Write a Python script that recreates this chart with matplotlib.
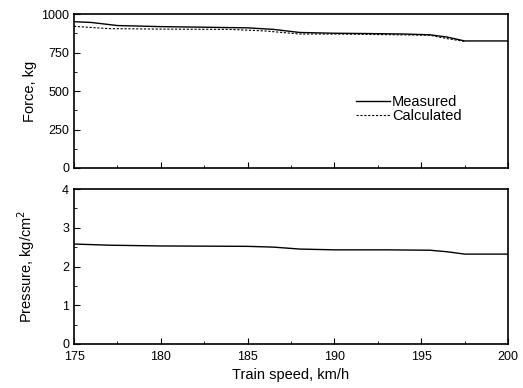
import numpy as np
import matplotlib
matplotlib.use("Agg")
import matplotlib.pyplot as plt
from matplotlib.ticker import MultipleLocator

plt.rcParams['font.family'] = ['Liberation Sans', 'DejaVu Sans']
plt.rcParams['font.size'] = 9

# values
speed_meas = [175, 176, 177.5, 180, 182, 185, 186.5, 188, 190, 192, 194, 195.5, 196.5, 197.5, 200]
force_meas = [950, 945, 925, 918, 915, 910, 900, 880, 875, 873, 870, 865, 850, 825, 825]

speed_calc = [175, 177, 180, 184, 186, 188, 190, 193, 195.5, 196.5, 197.5]
force_calc = [920, 905, 902, 900, 890, 870, 870, 866, 862, 840, 822]

speed_p = [175, 177, 180, 185, 186.5, 188, 190, 193, 195.5, 196.5, 197.5, 200]
pressure = [2.58, 2.55, 2.53, 2.52, 2.50, 2.45, 2.43, 2.43, 2.42, 2.38, 2.32, 2.32]

fig = plt.figure(figsize=(5.23, 3.88), dpi=100)
ax1 = fig.add_axes([74/523, 1-168/388, 434/523, 154/388])
ax2 = fig.add_axes([74/523, 1-344/388, 434/523, 155/388])

ax1.plot(speed_meas, force_meas, color='black', lw=1.0, label='Measured')
ax1.plot(speed_calc, force_calc, color='black', lw=0.8, ls=(0, (2, 1.5)), label='Calculated')
ax1.set_ylim(0, 1000)
ax1.set_ylabel('Force, kg', fontsize=10.5)
ax1.yaxis.set_major_locator(MultipleLocator(250))
ax1.yaxis.set_minor_locator(MultipleLocator(125))
ax1.legend(loc='center left', bbox_to_anchor=(0.62, 0.38), frameon=False,
           handlelength=2.3, handletextpad=0.15, labelspacing=0.0, fontsize=10.5)
ax1.tick_params(labelbottom=False)

ax2.plot(speed_p, pressure, color='black', lw=1.0)
ax2.set_ylim(0, 4)
ax2.set_ylabel('Pressure, kg/cm$^2$', fontsize=10.5)
ax2.yaxis.set_major_locator(MultipleLocator(1))
ax2.yaxis.set_minor_locator(MultipleLocator(0.5))
ax2.set_xlabel('Train speed, km/h', fontsize=10.5)

for ax in (ax1, ax2):
    ax.set_xlim(175, 200)
    ax.xaxis.set_major_locator(MultipleLocator(5))
    ax.xaxis.set_minor_locator(MultipleLocator(2.5))
    ax.tick_params(which='both', direction='in', top=False, right=False)
    ax.tick_params(which='major', length=4)
    ax.tick_params(which='minor', length=2)
    for s in ax.spines.values():
        s.set_linewidth(1.2)

ax2.tick_params(axis='x', pad=5)
ax1.yaxis.set_label_coords(-0.085, 0.5)
ax2.yaxis.set_label_coords(-0.085, 0.5)

fig.savefig('out.png', dpi=100)
